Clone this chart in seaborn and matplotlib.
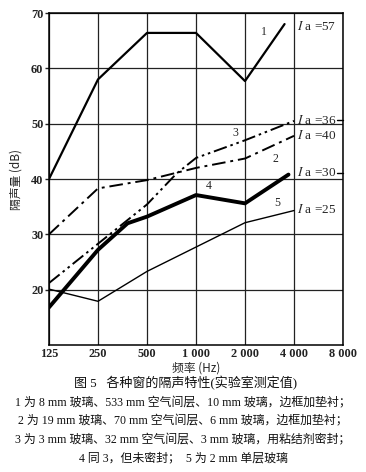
import numpy as np
import pandas as pd
import matplotlib
matplotlib.use("Agg")
import matplotlib.pyplot as plt
import seaborn as sns

# ---- data ----
freq_ticks = [125, 250, 500, 1000, 2000, 4000, 8000]
freq_tick_labels = ["125", "250", "500", "1 000", "2 000", "4 000", "8 000"]
db_ticks = [20, 30, 40, 50, 60, 70]

c1_f = [125, 250, 500, 1000, 2000, 3500]
c1_db = [40.0, 58.0, 66.4, 66.4, 57.7, 68.0]

c2_f = [125, 250, 500, 1000, 2000, 4000]
c2_db = [30.0, 38.3, 39.8, 42.0, 43.7, 47.8]

c3_f = [125, 250, 500, 760, 1000, 2000, 4000]
c3_db = [21.2, 28.3, 35.4, 41.0, 43.8, 47.0, 50.5]

c4_f = [125, 250, 380, 500, 1000, 2000, 3700]
c4_db = [16.8, 27.2, 32.0, 33.2, 37.1, 35.6, 40.8]

c5_f = [125, 250, 500, 1000, 2000, 4000]
c5_db = [20.1, 17.9, 23.3, 27.7, 32.1, 34.3]

curve_labels = ["1", "2", "3", "4", "5"]
curve_label_pos_f = [2600, 3060, 1740, 1190, 3140]
curve_label_pos_db = [66.6, 43.6, 48.3, 38.8, 35.6]

ia_labels = ["=57", "=36", "=40", "=30", "=25"]
ia_pos_db = [67.6, 50.6, 47.9, 41.1, 34.4]

caption = [
    "图 5   各种窗的隔声特性(实验室测定值)",
    "1 为 8 mm 玻璃、533 mm 空气间层、10 mm 玻璃，边框加垫衬；",
    "2 为 19 mm 玻璃、70 mm 空气间层、6 mm 玻璃，边框加垫衬；",
    "3 为 3 mm 玻璃、32 mm 空气间层、3 mm 玻璃，用粘结剂密封；",
    "4 同 3，但未密封；  5 为 2 mm 单层玻璃",
]

sns.set_theme(style="white")
plt.rcParams["font.family"] = ["Liberation Serif", "Noto Sans CJK SC", "DejaVu Sans"]
plt.rcParams["mathtext.fontset"] = "stix"

fig = plt.figure(figsize=(3.66, 4.72), dpi=100)
W, H = 366, 472
ax = fig.add_axes([49 / W, 1 - 345 / H, (343 - 49) / W, (345 - 13) / H])

styles = [
    (c1_f, c1_db, dict(lw=1.6, linestyle="-")),
    (c2_f, c2_db, dict(lw=1.4, linestyle=(0, (7, 2.5, 1.5, 2.5)))),
    (c3_f, c3_db, dict(lw=1.4, linestyle=(0, (7, 2, 1.3, 2, 1.3, 2)))),
    (c4_f, c4_db, dict(lw=2.8, linestyle="-")),
    (c5_f, c5_db, dict(lw=1.0, linestyle="-")),
]
for f, d, st in styles:
    df = pd.DataFrame({"f": f, "db": d})
    sns.lineplot(data=df, x="f", y="db", ax=ax, color="black", sort=False, **st)

ax.set_xscale("log", base=2)
ax.set_xlim(125, 8000)
ax.set_ylim(10, 70)
ax.set_xticks(freq_ticks)
ax.set_xticklabels(freq_tick_labels)
ax.set_yticks(db_ticks)
ax.minorticks_off()
ax.grid(True, color="#222222", lw=0.9)
for s in ax.spines.values():
    s.set_color("black")
    s.set_linewidth(1.1)
ax.tick_params(axis="x", length=0, pad=2, labelsize=8.8, colors="#222222")
ax.tick_params(axis="y", length=3, width=1, direction="out", pad=1,
               labelsize=8.8, colors="#222222", left=True)
for lab in ax.get_xticklabels() + ax.get_yticklabels():
    lab.set_fontweight("bold")
cjk = ["Noto Sans CJK SC", "DejaVu Sans"]
ax.set_xlabel("频率 (Hz)", fontsize=8.5, labelpad=1, family=cjk, fontweight="medium")
ax.set_ylabel("隔声量 (dB)", fontsize=8.5, family=cjk, fontweight="medium")
ax.yaxis.set_label_coords(-0.09, 0.5)

for lab, fx, dy in zip(curve_labels, curve_label_pos_f, curve_label_pos_db):
    ax.text(fx, dy, lab, fontsize=8.5, ha="center", va="center")

for lab, dy in zip(ia_labels, ia_pos_db):
    ax.text(4150, dy, r"$I$ a " + lab, fontsize=9.5, ha="left", va="center")
# short dashes after two labels
for dy in [ia_pos_db[1], ia_pos_db[3]]:
    ax.plot([0.978, 1.0], [(dy - 10) / 60] * 2, transform=ax.transAxes,
            color="black", lw=1.0, clip_on=False)

ys = [383, 403, 421, 440, 458]
sizes = [9.4, 8.6, 8.6, 8.6, 8.6]
for t, y, s in zip(caption, ys, sizes):
    fig.text(0.5 + (3 / W if y == 383 else 0), 1 - y / H, t, ha="center", va="center",
             fontsize=s, color="#111111", fontweight="medium")

fig.savefig("out.png", dpi=100, facecolor="white")
